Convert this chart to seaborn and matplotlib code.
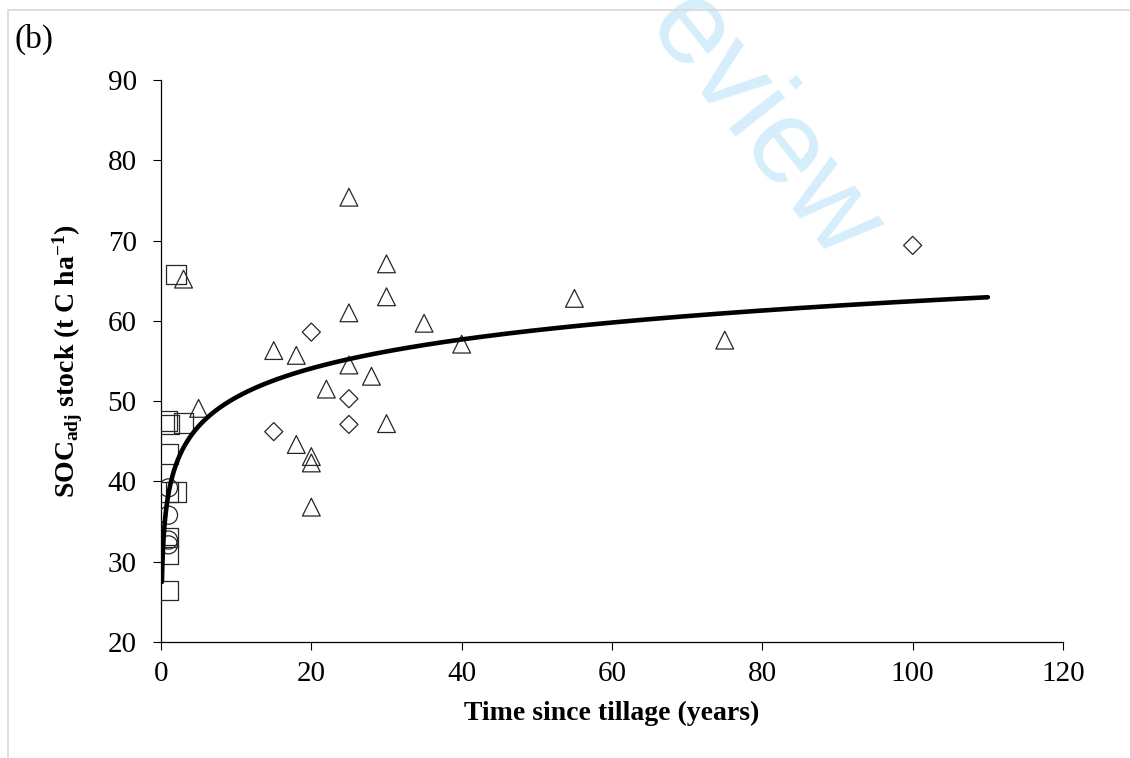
import numpy as np
import pandas as pd
import matplotlib
matplotlib.use("Agg")
import matplotlib.pyplot as plt
import seaborn as sns
from matplotlib.lines import Line2D

# ---------------- data ----------------
square_x = [2, 0.9, 1.1, 3, 1, 1, 2, 1, 1, 1]
square_y = [65.8, 47.5, 47.1, 47.3, 43.4, 38.7, 38.7, 33.0, 30.9, 26.4]

circle_x = [1, 1, 1, 1]
circle_y = [39.2, 35.8, 32.7, 32.1]

triangle_x = [25, 30, 30, 25, 35, 40, 15, 18, 25, 28, 22, 30, 18, 20, 20, 20, 5, 3, 55, 75]
triangle_y = [75.4, 67.1, 63.0, 61.0, 59.7, 57.1, 56.3, 55.7, 54.5, 53.1, 51.5, 47.2,
              44.6, 43.1, 42.3, 36.8, 49.1, 65.2, 62.8, 57.6]

diamond_x = [20, 15, 25, 25, 100]
diamond_y = [58.6, 46.2, 50.3, 47.1, 69.4]

# logarithmic trend line  y = a + b*ln(x)  (coefficients)
trend_a = 38.5
trend_b = 5.2
trend_x_start = 0.12
trend_x_end = 110

x_ticks = [0, 20, 40, 60, 80, 100, 120]
y_ticks = [20, 30, 40, 50, 60, 70, 80, 90]
x_label = "Time since tillage (years)"
panel_label = "(b)"
watermark = "eview"

# ---------------- style ----------------
sns.set_theme(style="ticks")
plt.rcParams["font.family"] = ["Liberation Serif", "DejaVu Serif"]
plt.rcParams["mathtext.fontset"] = "custom"
plt.rcParams["mathtext.rm"] = "Liberation Serif"
plt.rcParams["mathtext.bf"] = "Liberation Serif:bold"
plt.rcParams["mathtext.it"] = "Liberation Serif:italic"

fig = plt.figure(figsize=(11.3, 7.58), dpi=100)
ax = fig.add_axes([161 / 1130, 1 - 642 / 758, (1063 - 161) / 1130, (642 - 80) / 758])

# watermark (behind everything)
fig.text(762 / 1130, 1 - 128 / 758, watermark, rotation=-51.7, rotation_mode="anchor",
         ha="center", va="center", fontsize=86, color="#d6eefb",
         family=["Liberation Sans", "DejaVu Sans"], zorder=0)

# light page frame (top and left edges)
fig.add_artist(Line2D([8 / 1130, 8 / 1130], [0, 1 - 10 / 758], transform=fig.transFigure,
                      color="#d9d9d9", lw=1.2))
fig.add_artist(Line2D([8 / 1130, 1], [1 - 10 / 758, 1 - 10 / 758], transform=fig.transFigure,
                      color="#d9d9d9", lw=1.2))

edge = "#262626"
mk = dict(color="none", facecolor="none", edgecolor=edge, linewidth=0.9, legend=False, zorder=3)

sns.scatterplot(x=square_x, y=square_y, marker="s", s=14 ** 2, ax=ax, **mk)
sns.scatterplot(x=circle_x, y=circle_y, marker="o", s=13 ** 2, ax=ax, **mk)
sns.scatterplot(x=triangle_x, y=triangle_y, marker="^", s=12.8 ** 2, ax=ax, **mk)
sns.scatterplot(x=diamond_x, y=diamond_y, marker="D", s=9.2 ** 2, ax=ax, **mk)

trend_x = np.geomspace(trend_x_start, trend_x_end, 400)
trend_y = trend_a + trend_b * np.log(trend_x)
sns.lineplot(x=trend_x, y=trend_y, color="black", linewidth=3.3, ax=ax, zorder=4,
             estimator=None, sort=False)

ax.set_xlim(0, 120)
ax.set_ylim(20, 90)
ax.set_xticks(x_ticks)
ax.set_yticks(y_ticks)
ax.set_xticklabels([str(v) for v in x_ticks])
ax.set_yticklabels([str(v) for v in y_ticks])
ax.tick_params(axis="both", direction="out", length=5.5, width=0.8, color="black",
               labelsize=21, labelcolor="black")
ax.tick_params(axis="y", pad=12)
ax.tick_params(axis="x", pad=8)

sns.despine(ax=ax, top=True, right=True)
for side in ("left", "bottom"):
    ax.spines[side].set_color("black")
    ax.spines[side].set_linewidth(0.9)

ax.set_xlabel(x_label, fontsize=20, fontweight="bold", color="black", labelpad=10)
ax.set_ylabel(r"$\mathbf{SOC_{adj}}$" + " stock (t C ha" + r"$^{\mathbf{-1}}$" + ")",
              fontsize=20, fontweight="bold", color="black", labelpad=16)

fig.text(15 / 1130, 1 - 39 / 758, panel_label, ha="left", va="center", fontsize=24,
         color="black")

ax.set_facecolor("none")
fig.patch.set_facecolor("white")
fig.savefig("out.png", dpi=100, facecolor="white")
